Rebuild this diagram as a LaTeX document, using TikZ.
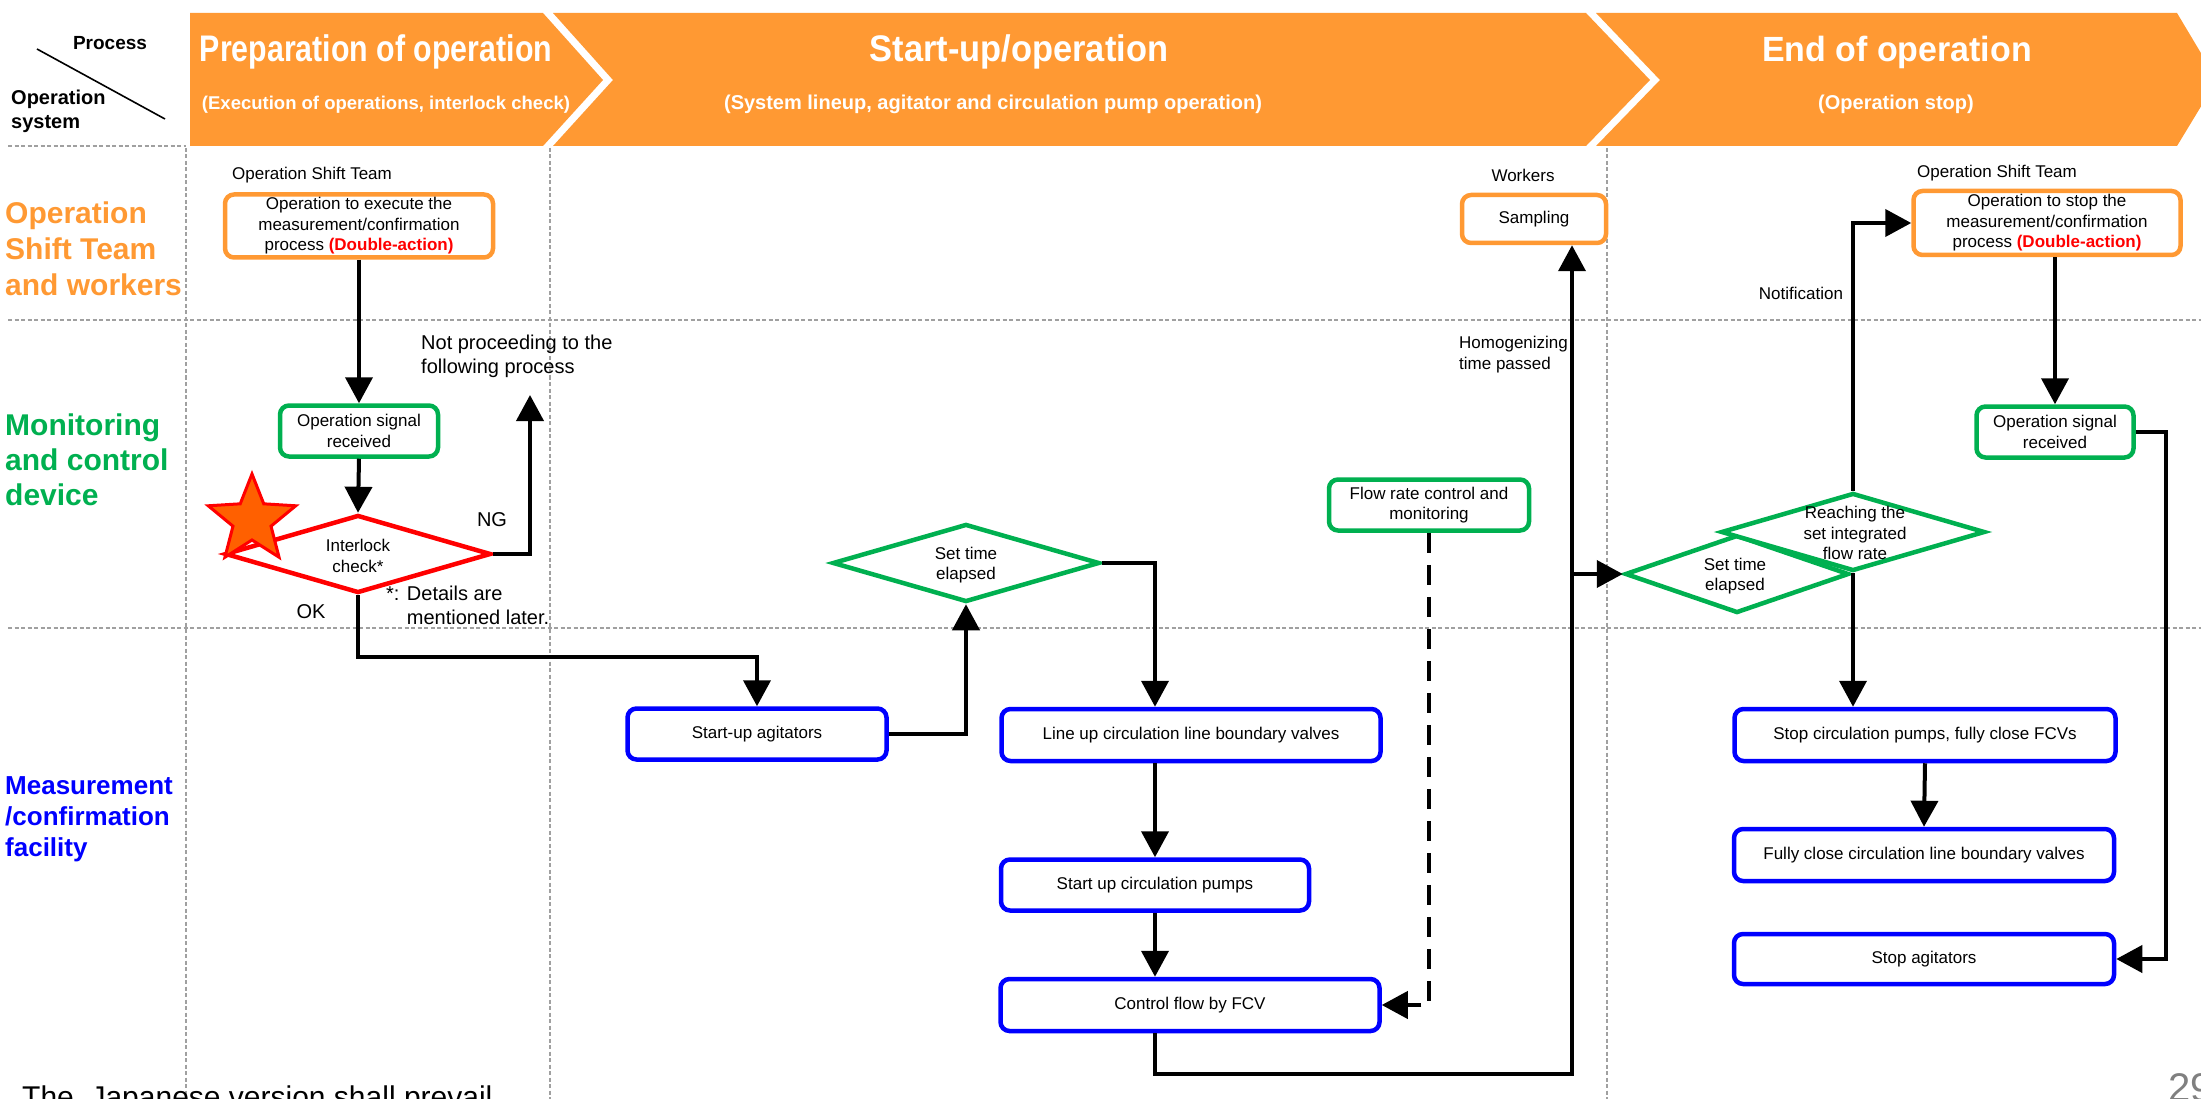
\documentclass[tikz,border=0pt]{standalone}
\usepackage{fontspec}
\setmainfont{Liberation Sans}
\usepackage{graphicx}
\usetikzlibrary{arrows.meta,shapes.geometric}
\definecolor{orng}{HTML}{FF9933}
\definecolor{grn}{HTML}{00B050}
\definecolor{blu}{HTML}{0000FF}
\definecolor{rd}{HTML}{FF0000}
\definecolor{starfill}{HTML}{FF6000}
\definecolor{gridgray}{HTML}{A0A0A0}
\newcommand{\fsz}[2]{\fontsize{#1pt}{#2pt}\selectfont}

\begin{document}
\begin{tikzpicture}[x=1pt,y=-1pt,
  box/.style={draw, rounded corners=9pt, line width=4.5pt, fill=white, align=center, inner sep=1pt, font=\fsz{17}{20.5}},
  obox/.style={box, draw=orng},
  gbox/.style={box, draw=grn},
  bbox/.style={box, draw=blu},
  dia/.style={diamond, line width=4.5pt, fill=white, inner sep=0pt},
  dtext/.style={align=center, font=\fsz{17}{20.5}, inner sep=0pt},
  note/.style={align=left, inner sep=0pt, font=\fsz{17}{21}},
  plain/.style={inner sep=0pt, font=\fsz{17}{20}},
  arr/.style={line width=4pt, -{Triangle[length=26pt,width=27pt]}},
  gridline/.style={gridgray, line width=1.3pt, dash pattern=on 4pt off 2.5pt},
  head/.style={text=white, inner sep=0pt, anchor=base},
]
\useasboundingbox (0,0) rectangle (2201,1099);
\fill[white] (0,0) rectangle (2201,1099);

% lane and phase separators
\draw[gridline] (8,146) -- (186,146);
\draw[gridline] (8,320) -- (2201,320);
\draw[gridline] (8,628) -- (2201,628);
\draw[gridline] (186,148) -- (186,1099);
\draw[gridline] (550,148) -- (550,1099);
\draw[gridline] (1607,148) -- (1607,1099);

% phase ribbon
\fill[orng] (190,13) -- (543,13) -- (603,80) -- (543,146) -- (190,146) -- cycle;
\fill[orng] (553,13) -- (1586,13) -- (1650,80) -- (1586,146) -- (553,146) -- (613,80) -- cycle;
\fill[orng] (1596,13) -- (2177,13) -- (2217,80) -- (2177,146) -- (1596,146) -- (1660,80) -- cycle;

\node[head, font=\fsz{37}{40}\bfseries] (t1) at (376,62) {\scalebox{0.82}[1]{Preparation of operation}};
\node[head, font=\fsz{37}{40}\bfseries] (t2) at (1019,62) {\scalebox{0.93}[1]{Start-up/operation}};
\node[head, font=\fsz{35}{40}\bfseries] (t3) at (1897,62) {\scalebox{0.97}[1]{End of operation}};
\node[head, font=\fsz{18.5}{22}\bfseries] (s1) at (386,110) {(Execution of operations, interlock check)};
\node[head, font=\fsz{20}{24}\bfseries] (s2) at (993,110) {(System lineup, agitator and circulation pump operation)};
\node[head, font=\fsz{20}{24}\bfseries] (s3) at (1896,110) {(Operation stop)};

% corner header cell
\node[inner sep=0pt, font=\fsz{19}{22}\bfseries] (proc) at (110,43) {Process};
\node[inner sep=0pt, font=\fsz{20}{24}\bfseries, align=left, anchor=west] (opsys) at (11,111) {Operation\\system};
\draw[line width=1.6pt] (37,49) -- (165,119);

% lane titles
\node[inner sep=0pt, font=\fsz{30}{36}\bfseries, text=orng, align=left, anchor=west] (laneA) at (5,249) {Operation\\Shift Team\\and workers};
\node[inner sep=0pt, font=\fsz{30}{35}\bfseries, text=grn, align=left, anchor=west] (laneB) at (5,460) {Monitoring\\and control\\device};
\node[inner sep=0pt, font=\fsz{26}{31}\bfseries, text=blu, align=left, anchor=west] (laneC) at (5,819) {Measurement\\/confirmation\\facility};

% preparation of operation
\node[plain] (ostA) at (312,175) {Operation Shift Team};
\node[obox, minimum width=268, minimum height=63] (box1) at (359,226) {Operation to execute the\\measurement/confirmation\\process {\color{rd}\bfseries(Double-action)}};
\node[gbox, minimum width=158, minimum height=51] (sig1) at (359,431) {Operation signal\\received};
\node[dia, draw=rd, minimum width=266, minimum height=78] (ilk) at (358,554) {};
\node[dtext] (ilkT) at (358,556) {Interlock\\check*};
\node[star, star points=5, star point ratio=2.3, minimum size=92, draw=rd, fill=starfill, line width=3pt, inner sep=0pt] (mark) at (252,520) {};
\node[inner sep=0pt, font=\fsz{20}{24}] (ng) at (492,520) {NG};
\node[inner sep=0pt, font=\fsz{20}{24}] (ok) at (311,612) {OK};
\node[note, font=\fsz{20}{24}, anchor=west] (np) at (421,356) {Not proceeding to the\\following process};
\node[note, font=\fsz{20}{24}, anchor=west] (det) at (386,605) {*: Details are\\\hphantom{*: }mentioned later.};
\coordinate (ngEnd) at (530,395);

% start-up / operation
\node[bbox, minimum width=259, minimum height=51] (agit) at (757,734) {Start-up agitators};
\node[dia, draw=grn, minimum width=267, minimum height=78] (st1) at (966,563) {};
\node[dtext] (st1T) at (966,565) {Set time\\elapsed};
\node[bbox, minimum width=379, minimum height=52] (lineup) at (1191,735) {Line up circulation line boundary valves};
\node[bbox, minimum width=308, minimum height=51] (pump) at (1155,885) {Start up circulation pumps};
\node[bbox, minimum width=379, minimum height=52] (fcv) at (1190,1005) {Control flow by FCV};
\node[gbox, minimum width=200, minimum height=51] (flow) at (1429,505) {Flow rate control and\\monitoring};
\node[plain] (wk) at (1523,175) {Workers};
\node[obox, minimum width=144, minimum height=48] (samp) at (1534,219) {Sampling};
\node[note, anchor=west] (homog) at (1459,355) {Homogenizing\\time passed};
\coordinate (bus) at (1572,1074);

% end of operation
\node[plain] (ostB) at (1997,173) {Operation Shift Team};
\node[obox, minimum width=267, minimum height=64] (box2) at (2047,223) {Operation to stop the\\measurement/confirmation\\process {\color{rd}\bfseries(Double-action)}};
\node[gbox, minimum width=157, minimum height=51] (sig2) at (2055,432) {Operation signal\\received};
\node[dia, draw=grn, minimum width=224, minimum height=78] (st2) at (1737,574) {};
\node[dtext] (st2T) at (1735,576) {Set time\\elapsed};
\node[dia, draw=grn, minimum width=264, minimum height=78] (reach) at (1853,532) {};
\node[dtext] (reachT) at (1855,533) {Reaching the\\set integrated\\flow rate};
\node[plain] (notif) at (1801,293) {Notification};
\node[bbox, minimum width=381, minimum height=52] (stopc) at (1925,735) {Stop circulation pumps, fully close FCVs};
\node[bbox, minimum width=380, minimum height=52] (fclose) at (1924,855) {Fully close circulation line boundary valves};
\node[bbox, minimum width=380, minimum height=50] (stopag) at (1924,959) {Stop agitators};

% footer
\node[anchor=base west, inner sep=0pt, font=\fsz{30}{36}] (foot) at (22,1107) {The\ \ Japanese version shall prevail};
\node[anchor=base west, inner sep=0pt, font=\fsz{40}{48}, text=gray] (pg) at (2168,1101) {29};

% connectors
\draw[arr] (box1.south) -- (sig1.north);
\draw[arr] (sig1.south) -- (ilk.north);
\draw[arr] (ilk.east) -| (ngEnd);
\draw[arr] (ilk.south) -- ++(0,62) -| (agit.north);
\draw[arr] (agit.east) -| (st1.south);
\draw[arr] (st1.east) -| (lineup.north -| pump.north);
\draw[arr] (lineup.south -| pump.north) -- (pump.north);
\draw[arr] (pump.south) -- (pump.south |- fcv.north);
\draw[arr, dash pattern=on 20pt off 12pt] (flow.south) |- (fcv.east);
\draw[arr] (fcv.south -| pump.south) |- (bus) -- (bus |- samp.south);
\draw[arr] (bus |- st2.west) -- (st2.west);
\draw[arr] (reach.north) |- (box2.west);
\draw[arr] (box2.south -| sig2.north) -- (sig2.north);
\draw[arr] (sig2.east) -- ++(30,0) |- (stopag.east);
\draw[arr] (reach.south) -- (reach.south |- stopc.north);
\draw[arr] (stopc.south) -- (fclose.north);
\end{tikzpicture}
\end{document}
